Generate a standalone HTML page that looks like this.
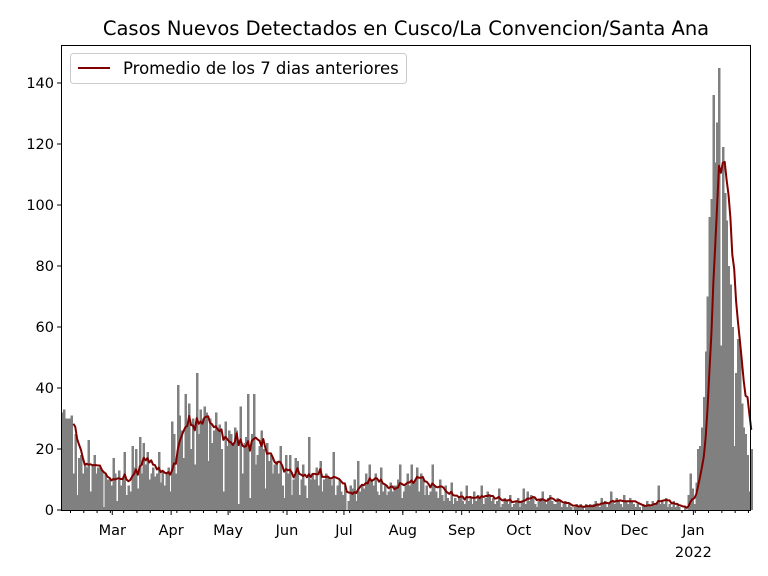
<!DOCTYPE html>
<html><head><meta charset="utf-8"><style>
body{margin:0;background:#fff;}
svg{display:block;font-family:"DejaVu Sans","Liberation Sans",sans-serif;}
</style></head><body>
<svg id="chart" width="768" height="576" viewBox="0 0 768 576">
<text x="406" y="35" font-size="19.5" text-anchor="middle">Casos Nuevos Detectados en Cusco/La Convencion/Santa Ana</text>
<g id="bars" shape-rendering="crispEdges"></g>
<g id="avg"></g>
<g id="axes"></g>
<rect x="61.5" y="45.5" width="689" height="465" fill="none" stroke="#000" stroke-width="1"/>
<g>
<rect x="70.5" y="53.5" width="336" height="30" rx="3" fill="#fff" fill-opacity="0.8" stroke="#ccc"/>
<line x1="78" y1="68" x2="110" y2="68" stroke="#800000" stroke-width="2"/>
<text x="123" y="74" font-size="16.5">Promedio de los 7 dias anteriores</text>
</g>
</svg>
<script>
const monthNames=["Feb","Mar","Apr","May","Jun","Jul","Aug","Sep","Oct","Nov","Dec","Jan"];
const monthLengths=[27,31,30,31,30,31,31,30,31,30,31,31];
const feb=[32,33,30,30,30,31,12,25,5,17,18,12,15,14,23,6,15,18,12,14,14,13,1,12,10,10,8];
const mar=[17,12,3,13,8,10,19,5,8,6,21,14,20,7,24,12,22,15,19,10,12,14,11,12,19,9,13,8,12,14,6];
const apr=[29,25,12,41,31,26,17,38,28,35,20,30,15,45,25,33,30,34,32,16,30,22,26,32,27,28,20,6,29,21];
const may=[26,25,22,27,26,2,34,12,22,24,38,4,25,38,15,18,21,26,20,7,22,16,18,12,15,16,12,21,8,4,18];
const jun=[12,18,5,10,17,16,5,10,15,8,4,24,10,12,10,14,8,16,6,10,12,11,10,8,19,5,8,10,6,5];
const jul=[8,0,3,8,7,10,3,16,6,8,7,12,9,15,10,8,12,6,5,14,6,8,5,6,9,6,8,8,10,15,4];
const aug=[6,8,12,8,15,9,10,14,6,12,10,5,8,5,6,15,8,6,4,10,5,3,8,4,3,9,2,4,3,4,6];
const sep=[3,2,8,3,4,2,6,3,5,4,8,2,4,6,5,3,4,2,3,7,1,2,4,3,2,5,1,2,3,4];
const oct=[1,3,7,2,6,3,5,4,2,1,3,4,6,3,2,4,5,3,2,2,4,3,1,2,3,1,2,1,0,1,2];
const nov=[1,2,1,0,2,1,2,1,2,3,2,1,4,2,3,1,2,6,3,2,4,3,2,1,5,3,2,4,3,2];
const dec=[1,2,1,0,2,1,3,2,1,3,2,2,8,2,3,2,4,1,2,1,3,1,2,1,0,0,1,0,5,12,7];
const jan=[2,9,20,21,27,37,52,70,96,102,136,114,127,145,54,119,104,95,80,74,60,21,45,56,53,35,27,25,18,6,20];
const months=[feb,mar,apr,may,jun,jul,aug,sep,oct,nov,dec,jan];
const yTicks=[0,20,40,60,80,100,120,140];

const NS="http://www.w3.org/2000/svg";
const X0=61,DAY=1.899,Y0=510,YS=(510-83)/140;
const xd=i=>X0+i*DAY, yv=v=>Y0-v*YS;
function mk(t,a,p){const e=document.createElementNS(NS,t);for(const k in a)e.setAttribute(k,a[k]);p.appendChild(e);return e;}
const vals=[];let start=0;const starts=[];
months.forEach((m,mi)=>{starts.push(start);for(let j=0;j<monthLengths[mi];j++)vals[start+j]=(m[j]!==undefined?m[j]:0);start+=monthLengths[mi];});
const bars=document.getElementById('bars');
vals.forEach((v,i)=>{if(v<=0)return;const r=mk('rect',{x:xd(i),y:yv(v),width:DAY+0.6,height:v*YS,fill:'#808080'},bars);

});
let pts=[];
for(let i=6;i<vals.length;i++){let s=0;for(let k=i-6;k<=i;k++)s+=vals[k];pts.push((xd(i)+DAY/2).toFixed(2)+','+yv(s/7).toFixed(2));}
const pl=mk('polyline',{points:pts.join(' '),fill:'none',stroke:'#800000','stroke-width':2,'stroke-linejoin':'round'},document.getElementById('avg'));


const ax=document.getElementById('axes');
yTicks.forEach(t=>{const y=yv(t);mk('line',{x1:57,x2:61,y1:y,y2:y,stroke:'#000'},ax);
const tx=mk('text',{x:54,y:y+5,'font-size':14.5,'text-anchor':'end'},ax);tx.textContent=t;

});
for(let i=5;i<vals.length;i+=7){const x=xd(i);mk('line',{x1:x,x2:x,y1:510,y2:513,stroke:'#000'},ax);}
months.forEach((m,mi)=>{if(mi===0)return;const x=xd(starts[mi]);mk('line',{x1:x,x2:x,y1:510,y2:515,stroke:'#000'},ax);
const tx=mk('text',{x:x,y:535,'font-size':14.5,'text-anchor':'middle'},ax);tx.textContent=monthNames[mi];


if(monthNames[mi]==='Jan'){const t2=mk('text',{x:x,y:557,'font-size':14.5,'text-anchor':'middle'},ax);t2.textContent='2022';

}});
</script>
</body></html>
